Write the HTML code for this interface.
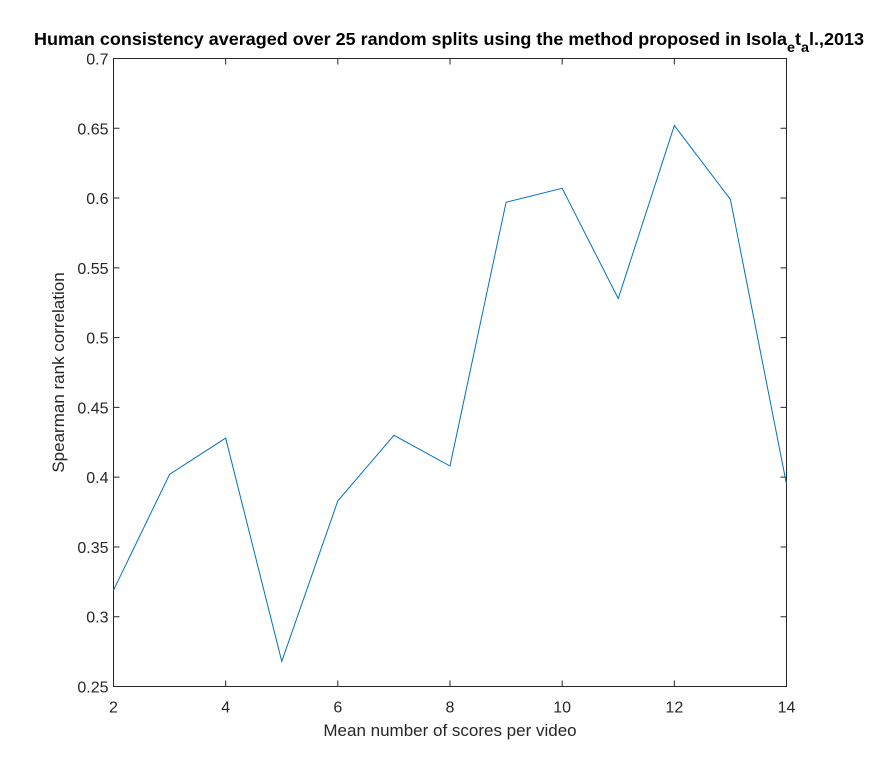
<!DOCTYPE html>
<html><head><meta charset="utf-8"><style>
html,body{margin:0;padding:0;background:#fff;}
svg{display:block;font-family:"Liberation Sans",Arial,sans-serif;}
</style></head><body>
<svg id="chart" width="870" height="772"></svg>
<script>
const xValues=[2,3,4,5,6,7,8,9,10,11,12,13,14];
const yValues=[0.319,0.402,0.428,0.268,0.383,0.430,0.408,0.597,0.607,0.528,0.652,0.599,0.395];
const xTicks=[2,4,6,8,10,12,14];
const yTicks=[0.25,0.3,0.35,0.4,0.45,0.5,0.55,0.6,0.65,0.7];
const yTickLabels=["0.25","0.3","0.35","0.4","0.45","0.5","0.55","0.6","0.65","0.7"];

const L=113.5,R=786.5,T=58.5,B=686.5;
const sx=v=>L+(v-2)/(14-2)*(R-L);
const sy=v=>B-(v-0.25)/(0.7-0.25)*(B-T);
const svg=document.getElementById('chart');
const NS='http://www.w3.org/2000/svg';
function mk(tag,attrs,parent){const e=document.createElementNS(NS,tag);for(const k in attrs)e.setAttribute(k,attrs[k]);(parent||svg).appendChild(e);return e;}

const box=mk('rect',{x:L,y:T,width:R-L,height:B-T,fill:'#fff',stroke:'#262626','stroke-width':1});



xTicks.forEach(t=>{
  const x=sx(t);
  const tk=mk('path',{d:`M${x},${B}v-6M${x},${T}v6`,stroke:'#262626','stroke-width':1});
  
  
  const lb=mk('text',{x:x,y:B+26,'text-anchor':'middle','font-size':16,fill:'#262626'});
  lb.textContent=t;
  
  
});
yTicks.forEach((t,i)=>{
  const y=sy(t);
  const tk=mk('path',{d:`M${L},${y}h6M${R},${y}h-6`,stroke:'#262626','stroke-width':1});
  
  
  const lb=mk('text',{x:L-5,y:y+6,'text-anchor':'end','font-size':16,fill:'#262626'});
  lb.textContent=yTickLabels[i];
  
  
});

const pts=xValues.map((v,i)=>sx(v)+','+sy(yValues[i])).join(' ');
const line=mk('polyline',{points:pts,fill:'none',stroke:'#0072BD','stroke-width':1});



const xt=mk('text',{x:(L+R)/2,y:736,'text-anchor':'middle','font-size':17,fill:'#262626'});
xt.textContent='Mean number of scores per video';



const yt=mk('text',{x:0,y:0,'text-anchor':'middle','font-size':17,fill:'#262626',transform:`translate(64,${(T+B)/2}) rotate(-90)`});
yt.textContent='Spearman rank correlation';



const title=mk('text',{x:449,y:45,'text-anchor':'middle','font-size':17.5,'font-weight':'bold',fill:'#000',textLength:830,lengthAdjust:'spacingAndGlyphs'});


title.innerHTML='Human consistency averaged over 25 random splits using the method proposed in Isola<tspan dy="7" font-size="14">e</tspan><tspan dy="-7">t</tspan><tspan dy="7" font-size="14">a</tspan><tspan dy="-7">l.,2013</tspan>';
</script>
</body></html>
